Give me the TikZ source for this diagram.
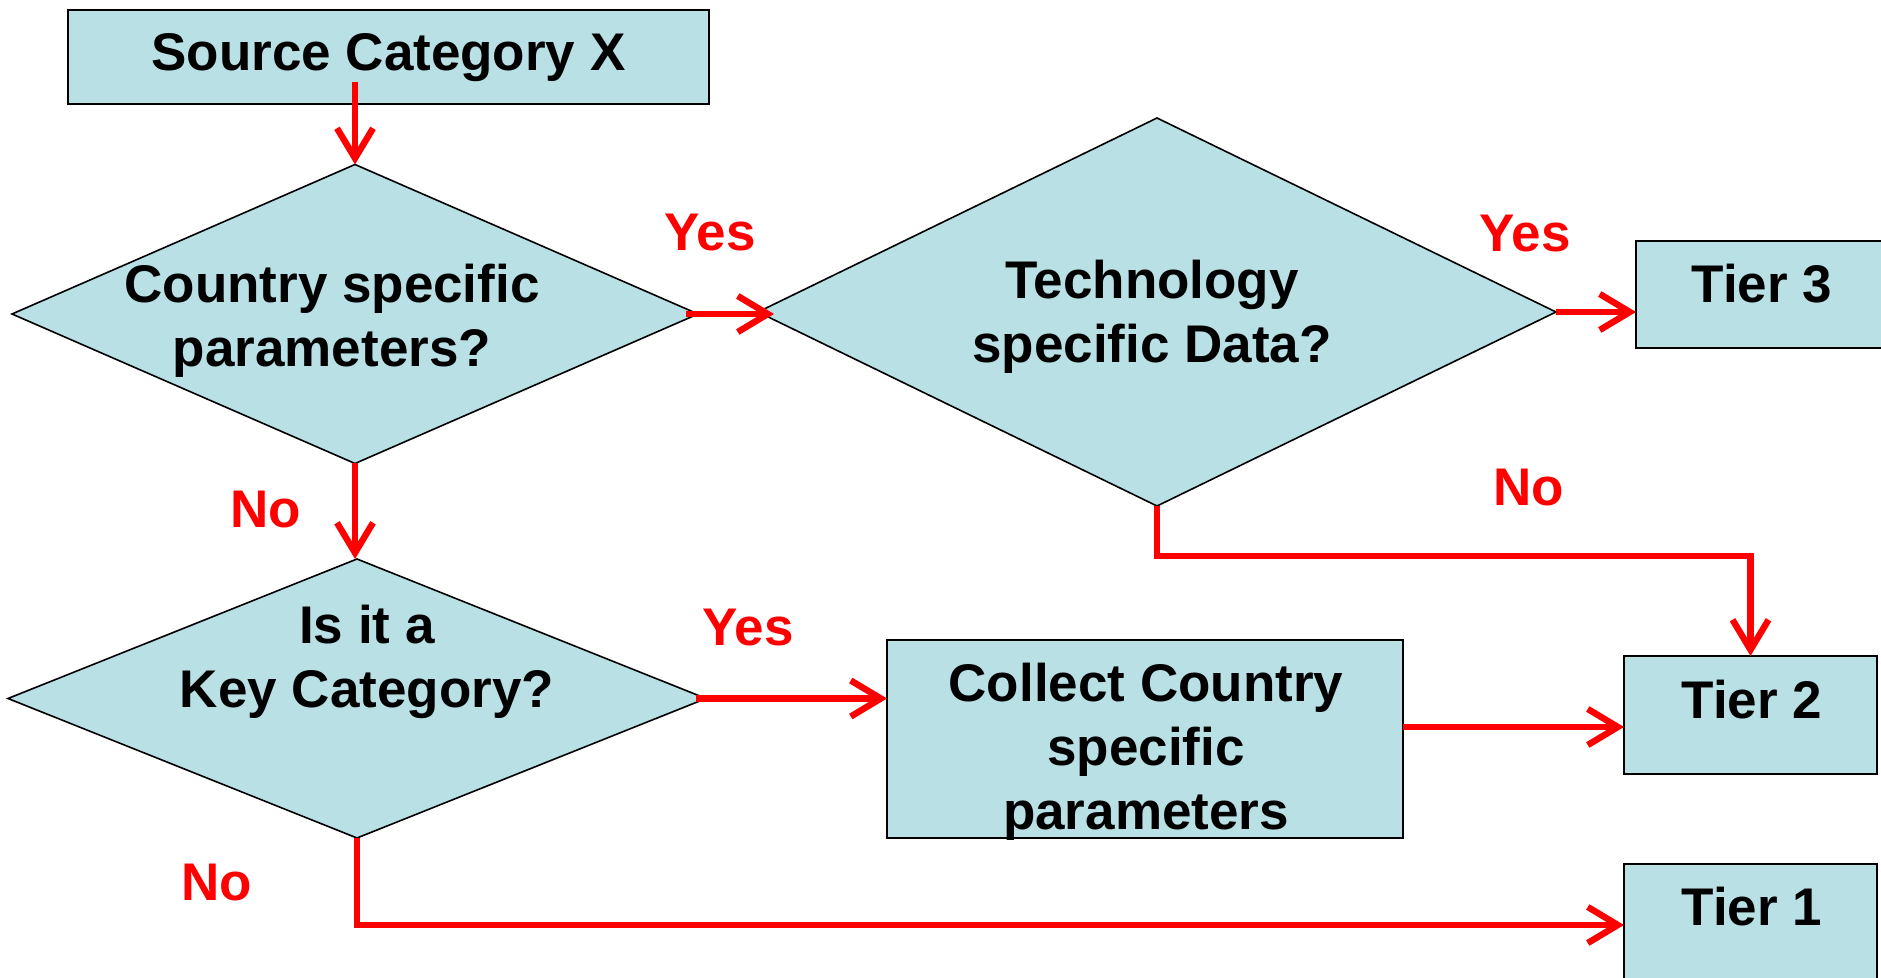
\documentclass[tikz,border=0pt]{standalone}
\usepackage{fontspec}
\setmainfont{Liberation Sans}
\usetikzlibrary{shapes.geometric,arrows.meta,calc}
\definecolor{boxfill}{RGB}{185,224,228}
\definecolor{flowred}{RGB}{255,0,0}
\begin{document}
\begin{tikzpicture}[x=0.5pt,y=-0.5pt,
  box/.style={draw=black,line width=0.8pt,fill=boxfill,rectangle,inner sep=0pt,outer sep=0pt},
  dia/.style={draw=black,line width=0.8pt,fill=boxfill,diamond,inner sep=0pt,outer sep=0pt},
  txt/.style={font=\bfseries\fontsize{26.5}{32}\selectfont,align=center,inner sep=0pt},
  lbl/.style={font=\bfseries\fontsize{26.5}{32}\selectfont,text=flowred,inner sep=0pt},
  arr/.style={draw=flowred,line width=3.2pt,-{Straight Barb[length=15pt,width=18pt]}}
]
\useasboundingbox (0,0) rectangle (1881,978);

% boxes and diamonds
\node[box,minimum width=320.5pt,minimum height=47pt] (src) at (388.5,57) {};
\node[txt] (srct) at (388.5,58) {Source Category X};

\node[dia,minimum width=343pt,minimum height=149.5pt] (d1) at (355,314) {};
\node[txt] (d1t) at (332,321) {Country specific\\parameters?};

\node[dia,minimum width=399pt,minimum height=194pt] (d2) at (1157,312) {};
\node[txt] (d2t) at (1152,317) {Technology\\specific Data?};

\node[box,minimum width=132pt,minimum height=53.5pt] (t3) at (1768,294.5) {};
\node[txt] (t3t) at (1762,284) {Tier 3};

\node[box,minimum width=126.5pt,minimum height=59pt] (t2) at (1750.5,715) {};
\node[txt] (t2t) at (1752,700) {Tier 2};

\node[box,minimum width=126.5pt,minimum height=73pt] (t1) at (1750.5,937) {};
\node[txt] (t1t) at (1752,907) {Tier 1};

\node[dia,minimum width=349pt,minimum height=139.5pt] (d3) at (357,698.5) {};
\node[txt] (d3t) at (367,662) {Is it a\\Key Category?};

\node[box,minimum width=258pt,minimum height=99pt] (cc) at (1145,739) {};
\node[txt] (cct) at (1146,752) {Collect Country\\specific\\parameters};

% labels
\node[lbl] (yes1) at (710,233) {Yes};
\node[lbl] (yes2) at (1525,234) {Yes};
\node[lbl] (no1) at (1529,488) {No};
\node[lbl] (no2) at (266,510) {No};
\node[lbl] (yes3) at (748,628) {Yes};
\node[lbl] (no3) at (217,883) {No};

% connectors
\draw[arr] ([yshift=11pt]src.south -| d1.north) -- (d1.north);
\draw[arr] ([xshift=-6pt]d1.east) -- ([xshift=8pt]d1.east -| d2.west);
\draw[arr] (d2.east) -- (d2.east -| t3.west);
\draw[arr] (d2.south) -- ([yshift=-25pt]d2.south) -| (t2.north);
\draw[arr] (d1.south) -- (d1.south |- d3.north);
\draw[arr] ([xshift=-5pt]d3.east) -- (d3.east -| cc.west);
\draw[arr] ([yshift=6pt]cc.east) -- ([yshift=6pt]cc.east -| t2.west);
\draw[arr] (d3.south) |- ([yshift=6pt]t1.west);
\end{tikzpicture}
\end{document}
